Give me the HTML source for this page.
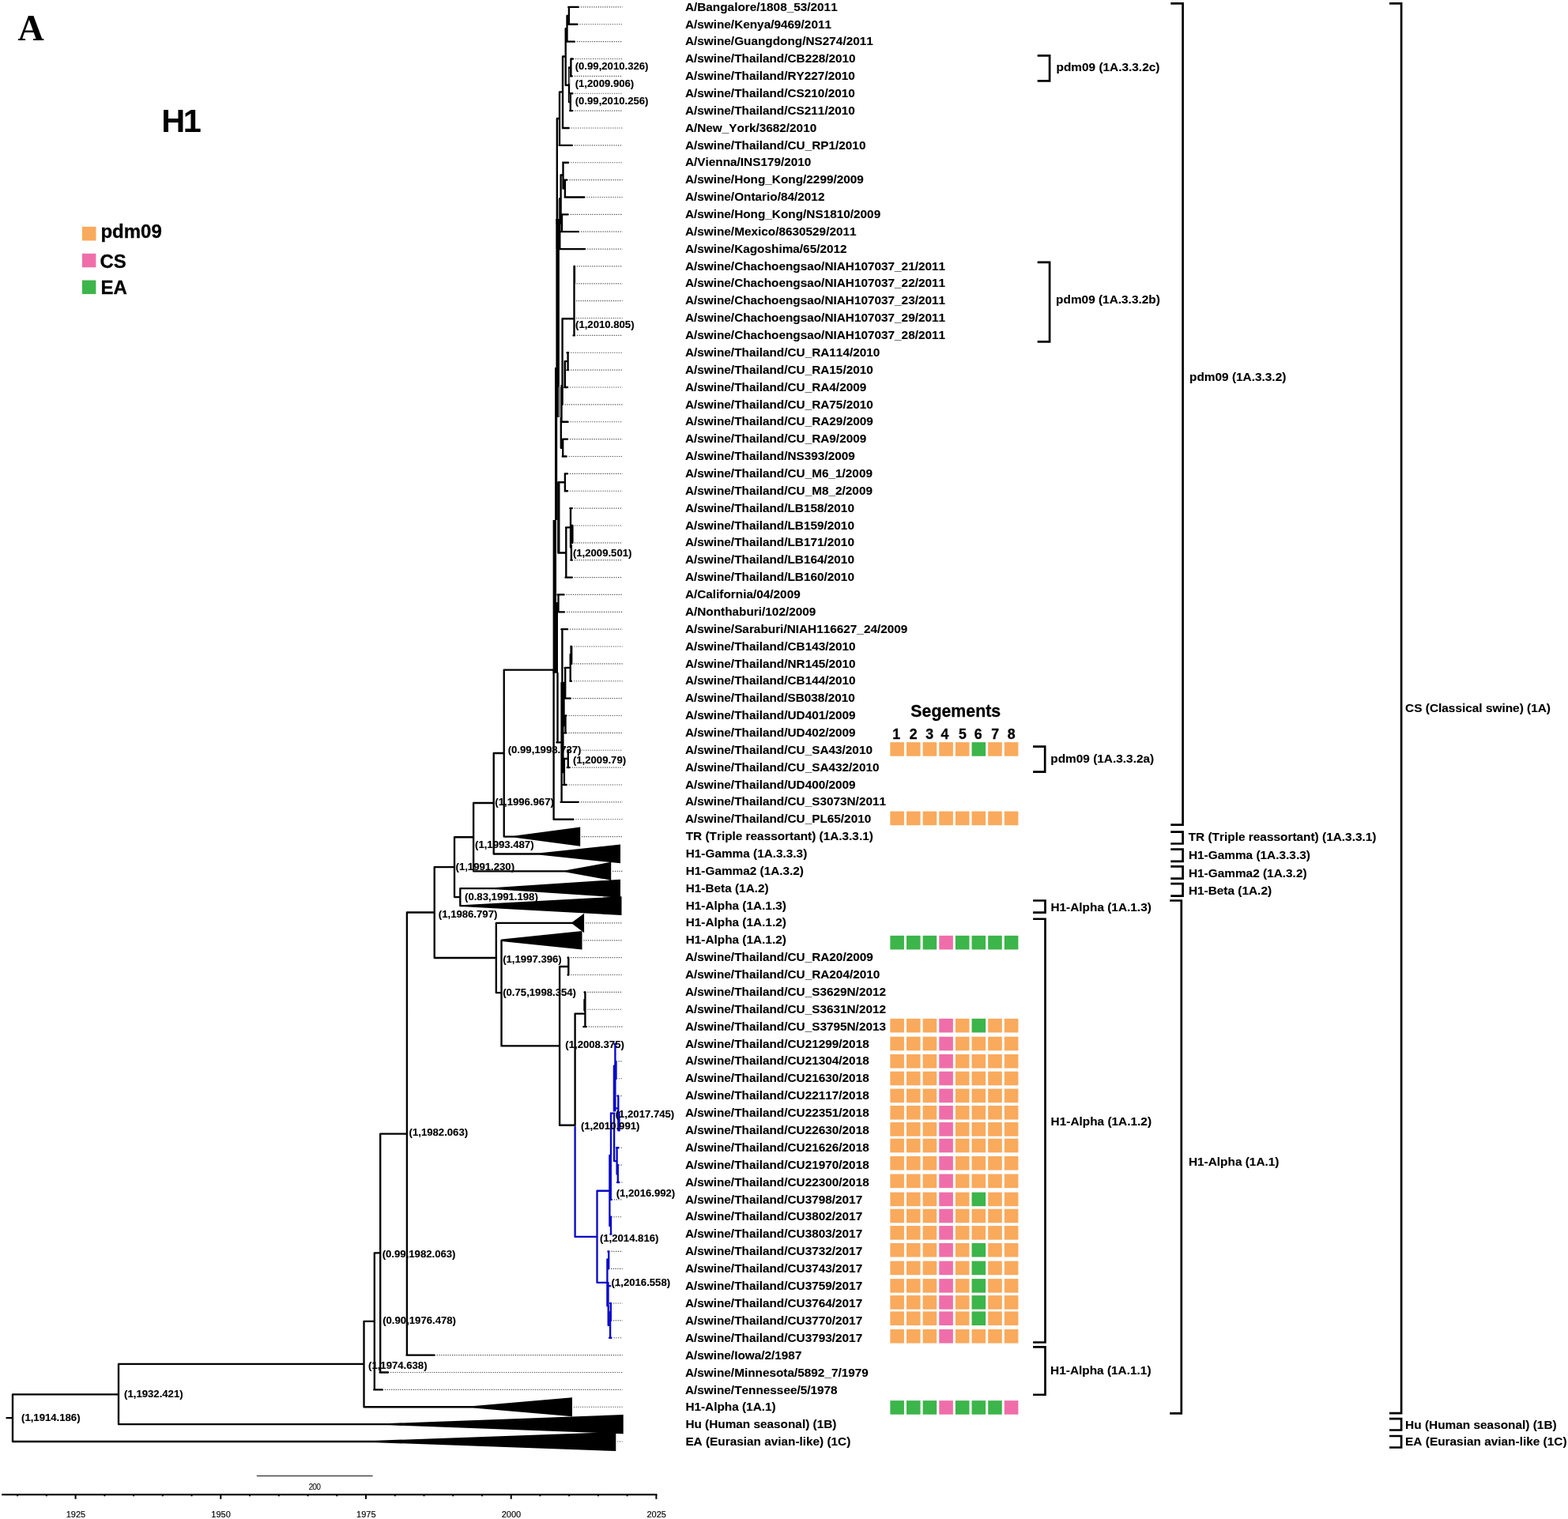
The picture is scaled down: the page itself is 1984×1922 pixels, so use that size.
<!DOCTYPE html>
<html lang="en">
<head>
<meta charset="utf-8">
<title>H1 phylogenetic tree</title>
<style>
html,body{margin:0;padding:0;background:#fff;}
body{width:1984px;height:1922px;overflow:hidden;}
svg{display:block;}
text{white-space:pre;font-kerning:none;}
</style>
</head>
<body>
<svg width="1984" height="1922" viewBox="0 0 1984 1922">
<rect width="1984" height="1922" fill="#fff"/>
<path d="M734.8 8.9H787.6M733.5 30.77H787.6M729.9 52.64H787.6M728 74.51H787.6M726.9 96.37H787.6M727.4 118.24H787.6M727.4 140.11H787.6M722.8 161.98H787.6M726.9 183.85H787.6M722.2 205.72H787.6M720.5 227.59H787.6M742.4 249.45H787.6M721.8 271.32H787.6M735 293.19H787.6M743.2 315.06H787.6M729.9 336.93H787.6M729.5 358.8H787.6M729.1 380.66H787.6M728.9 402.53H787.6M729.9 424.4H787.6M722.2 446.27H787.6M722.2 468.14H787.6M721.2 490.01H787.6M714.6 511.88H787.6M721.7 533.74H787.6M721.2 555.61H787.6M719.7 577.48H787.6M721.2 599.35H787.6M721.2 621.22H787.6M726.9 643.09H787.6M726.9 664.96H787.6M726.9 686.82H787.6M726.9 708.69H787.6M726.9 730.56H787.6M716.6 752.43H787.6M717.1 774.3H787.6M721.2 796.17H787.6M726.3 818.03H787.6M725.8 839.9H787.6M726 861.77H787.6M724.8 883.64H787.6M719.5 905.51H787.6M719.5 927.38H787.6M735.5 949.25H787.6M723.8 971.11H787.6M719.7 992.98H787.6M734.9 1014.85H787.6M728.4 1036.72H787.6M722.2 1211.67H787.6M722.2 1233.54H787.6M743.4 1255.4H787.6M743.4 1277.27H787.6M744.8 1299.14H787.6M782.6 1342.88H787.6M782.8 1364.75H787.6M785.3 1386.62H787.6M786.4 1408.48H787.6M785.7 1452.22H787.6M785.5 1474.09H787.6M786.4 1495.96H787.6M776.9 1517.83H787.6M776.5 1539.7H787.6M773.6 1583.43H787.6M773 1605.3H787.6M775.3 1627.17H787.6M776.1 1649.04H787.6M776.1 1670.91H787.6M776.5 1692.77H787.6M552.7 1714.64H787.6M494.1 1736.51H787.6M486.9 1758.38H787.6M736.1 1058.59H787.6M775.1 1102.33H787.6M741 1167.93H787.6M738.4 1189.8H787.6M725.9 1780.25H787.6M781.2 1823.99H787.6" stroke="#484848" stroke-width="1.15" stroke-dasharray="1.2 1.554" fill="none"/>
<path d="M719.9 8.9V30.77M717.5 19.9V52.64M717.5 19.9H719.9M715.7 36.2V107.7M715.7 36.2H717.5M722.4 74.51V96.37M721.8 118.24V140.11M720 85.4V129.1M720 85.4H722.4M720 129.1H721.8M715.7 107.7H720M712 71.5V161.98M712 71.5H715.7M708 116.3V183.85M708 116.3H712M704.8 150V283M704.8 150H708M712.5 205.72V238.5M714.9 227.59V249.45M712.5 238.5H714.9M709.6 221.5V282.5M709.6 221.5H712.5M711 271.32V293.19M708.3 251.2V315.06M708.3 251.2H709.6M726.5 336.93V424.4M726.9 336.93V358.8M711.6 403.2H725.5M711.6 403.2V511.88M718.6 446.27V468.14M714.7 457.1H718.6M714.9 457.1V490.01M710.5 488V533.74M712.2 555.61V577.48M709.8 529V566.8M709.8 566.8H712.2M714.9 599.35V621.22M706.6 610.2H714.7M706.3 610.2V699.5M707.3 610.2V699.5M706.6 699.5H716.3M716.3 667.4V730.56M716 667.4H722M722 643.09V692.4M723.6 664.96V686.82M724.4 664.96V686.82M722.9 690V708.69M706.5 752.43V774.3M711.4 796.17V880M722.6 818.03V839.9M723.2 818.03V839.9M721.7 828V861.77M714.7 844.9H721.4M715.2 844.9V883.64M715.5 905.51V927.38M713.5 864V918M704.3 939.3H709.6M705.5 851.7V939.3M718.8 949.25V971.11M713.7 960H717.8M713.9 960V992.98M710.6 864V1014.85M712.4 864V977M637.7 847.6H700.4M700.6 847.6V1036.72M637.7 847.6V1058.59M624.7 953H637.7M624.7 953V1080.46M599.1 1016H624.7M599.1 1016V1102.33M575 1059.2H599.1M575 1059.2V1135.1M575 1135.1H582.3M582.3 1124.19V1146.06M549.7 1097.1H575M549.7 1097.1V1212M514.9 1154.5H549.7M549.7 1212H627.8M627.8 1167.93V1256.1M627.8 1256.1H634.5M634.5 1189.8V1323.4M634.5 1323.4H708.1M708.1 1223V1423.7M708.1 1223H719.3M719.3 1211.67V1233.54M708.1 1423.7H727.6M727.6 1282.6V1423.7M727.6 1282.6H740.4M740.4 1255.4V1299.14M739.5 1265V1278.5M514.9 1154.5V1714.64M481.2 1434.6H514.9M481.2 1434.6V1736.51M473.8 1585.3H481.2M473.8 1585.3V1758.38M460.5 1671.8H473.8M460.5 1671.8V1780.25M150 1725.8H460.5M150 1725.8V1802.12M16 1764.3H150M16 1764.3V1823.99M8.5 1794.1H16M719.3 8.9H731.73M719.3 30.77H730.43M716.6 52.64H726.83M722.4 74.51H724.93M721.8 96.37H723.83M721.8 118.24H724.33M721.2 140.11H724.33M711.9 161.98H719.73M707.6 183.85H723.83M712.2 205.72H719.12M714.7 227.59H717.43M714.7 249.45H739.33M710 271.32H718.73M710 293.19H731.93M707.7 315.06H740.12M726.5 336.93H727.03M726.5 358.8H726.5M726.5 380.66H726.5M726.5 402.53H726.5M725.6 424.4H726.83M717.6 446.27H719.12M717.6 468.14H719.12M714.2 490.01H718.12M711.6 511.88H711.6M709.6 533.74H718.62M712.2 555.61H718.12M711.7 577.48H716.62M714.7 599.35H718.12M714.7 621.22H718.12M721.4 643.09H723.83M723.4 664.96H723.83M723.4 686.82H723.83M722.4 708.69H723.83M715.5 730.56H723.83M705.5 752.43H713.53M705.5 774.3H714.03M710.4 796.17H718.12M722.4 818.03H723.23M721.5 839.9H722.73M721.4 861.77H722.93M714.7 883.64H721.73M715.2 905.51H716.43M714.7 927.38H716.43M718.3 949.25H719.62M717.8 971.11H720.73M712.9 992.98H716.62M709.6 1014.85H731.83M700.5 1036.72H725.33M718.6 1211.67H719.12M718.6 1233.54H719.12M739.6 1255.4H740.23M739.6 1277.27H740.23M738.3 1299.14H741.73M514.5 1714.64H549.62M480.6 1736.51H491.02M473.3 1758.38H483.82M637.7 1058.59H651.5M624.7 1080.46H683.7M599.1 1102.33H715.8M582.3 1124.19H627M582.3 1146.06H588M627.8 1167.93H724.2M634.5 1189.8H634.5M460.5 1780.25H599.3M150 1802.12H492.7M16 1823.99H475.7" stroke="#000" stroke-width="2.35" fill="none" stroke-linecap="round"/>
<path d="M727.6 1425.7V1564.9M727.6 1564.9H755.5M755.5 1506.7V1622.8M755.5 1506.7H771.2M755.5 1622.8H768.2M778.4 1321.01V1405.4M779.5 1342.88V1364.75M776.9 1348.6V1405.4M782.3 1386.62V1430.35M783.5 1408.48V1430.35M777.5 1402.4H782.3M773 1408.4V1462M773 1408.6H777.5M777.1 1408.6V1469.1M777.1 1469.1H780.6M780.6 1452.22V1485.5M781.8 1474.09V1495.96M771.4 1462V1551M772.8 1462V1517.83M773 1539.7V1561.56M770.2 1583.43V1605.3M768.4 1593.3V1652.3M769.5 1622.8V1652.3M772.8 1649.04V1670.91M769.7 1652.3V1676.7M769.7 1676.7H771.7M772.1 1659.9V1692.77M777.4 1321.01H778.23M778.4 1342.88H779.53M778.4 1364.75H779.73M781.3 1386.62H782.23M782.5 1408.48H783.33M783 1430.35H783.83M780 1452.22H782.62M781 1474.09H782.43M781 1495.96H783.33M772 1517.83H773.83M771.6 1539.7H773.43M772.3 1561.56H773.43M769.4 1583.43H770.53M768.8 1605.3H769.93M768.8 1627.17H772.23M772 1649.04H773.03M771.7 1670.91H773.03M771.1 1692.77H773.43" stroke="#0a0ac8" stroke-width="2.35" fill="none" stroke-linecap="round"/>
<rect x="706.3" y="252" width="1" height="26" fill="#888"/>
<rect x="719.7" y="87" width="1" height="19" fill="#999"/>
<rect x="720.6" y="119" width="0.7" height="9.5" fill="#999"/>
<rect x="703.3" y="277" width="4.9" height="38" fill="#000"/>
<rect x="703.4" y="315" width="4.5" height="150" fill="#000"/>
<rect x="702" y="465" width="5.9" height="25" fill="#000"/>
<rect x="702" y="490" width="4.8" height="38" fill="#000"/>
<rect x="706.8" y="490" width="2" height="38" fill="#777"/>
<rect x="702" y="528" width="3.2" height="130" fill="#000"/>
<rect x="712.5" y="457" width="1.5" height="32.5" fill="#777"/>
<rect x="699.6" y="658" width="4.4" height="104" fill="#000"/>
<rect x="699.6" y="762" width="6.4" height="89.7" fill="#000"/>
<path d="M651.5 1057.41L734.2 1046.39V1070.79L651.5 1059.76ZM683.7 1079.28L785 1068.56V1092.36L683.7 1081.63ZM715.8 1101.15L773.2 1090.83V1113.83L715.8 1103.5ZM627 1123.02L785 1112.69V1135.69L627 1125.37ZM588 1144.89L786.5 1134.16V1157.96L588 1147.24ZM724.2 1166.76L739.1 1155.63V1180.23L724.2 1169.11ZM634.5 1188.62L736.5 1178.1V1201.5L634.5 1190.97ZM599.3 1779.07L724 1768.35V1792.15L599.3 1781.42ZM492.7 1800.94L788.7 1790.02V1814.22L492.7 1803.29ZM475.7 1822.81L779.3 1811.89V1836.09L475.7 1825.16Z" fill="#000"/>
<path d="M2.2 1891.1H831.3" stroke="#000" stroke-width="2.2"/>
<path d="M22.12 1891.1V1893.2M58.86 1891.1V1893.2M95.6 1891.1V1896.7M132.34 1891.1V1893.2M169.08 1891.1V1893.2M205.82 1891.1V1893.2M242.56 1891.1V1893.2M279.3 1891.1V1896.7M316.04 1891.1V1893.2M352.78 1891.1V1893.2M389.52 1891.1V1893.2M426.26 1891.1V1893.2M463 1891.1V1896.7M499.74 1891.1V1893.2M536.48 1891.1V1893.2M573.22 1891.1V1893.2M609.96 1891.1V1893.2M646.7 1891.1V1896.7M683.44 1891.1V1893.2M720.18 1891.1V1893.2M756.92 1891.1V1893.2M793.66 1891.1V1893.2M830.4 1891.1V1896.7" stroke="#000" stroke-width="2"/>
<g font-family="'Liberation Sans',sans-serif" font-size="11" text-anchor="middle" fill="#000" stroke="#000" stroke-width="0.15">
<text x="95.9" y="1919.6">1925</text>
<text x="279.6" y="1919.6">1950</text>
<text x="463.3" y="1919.6">1975</text>
<text x="647" y="1919.6">2000</text>
<text x="830.7" y="1919.6">2025</text>
</g>
<path d="M324.8 1867.5H471.6" stroke="#111" stroke-width="1.15"/>
<text x="397.8" y="1884.8" font-family="'Liberation Sans',sans-serif" font-size="10.3" text-anchor="middle" letter-spacing="-0.9" fill="#000">200</text>
<rect x="1126.35" y="939.14" width="17.6" height="17.6" fill="#f9aa5c"/>
<rect x="1146.99" y="939.14" width="17.6" height="17.6" fill="#f9aa5c"/>
<rect x="1167.63" y="939.14" width="17.6" height="17.6" fill="#f9aa5c"/>
<rect x="1188.27" y="939.14" width="17.6" height="17.6" fill="#f9aa5c"/>
<rect x="1208.91" y="939.14" width="17.6" height="17.6" fill="#f9aa5c"/>
<rect x="1229.55" y="939.14" width="17.6" height="17.6" fill="#3cb54a"/>
<rect x="1250.19" y="939.14" width="17.6" height="17.6" fill="#f9aa5c"/>
<rect x="1270.83" y="939.14" width="17.6" height="17.6" fill="#f9aa5c"/>
<rect x="1126.35" y="1026.6" width="17.6" height="17.6" fill="#f9aa5c"/>
<rect x="1146.99" y="1026.6" width="17.6" height="17.6" fill="#f9aa5c"/>
<rect x="1167.63" y="1026.6" width="17.6" height="17.6" fill="#f9aa5c"/>
<rect x="1188.27" y="1026.6" width="17.6" height="17.6" fill="#f9aa5c"/>
<rect x="1208.91" y="1026.6" width="17.6" height="17.6" fill="#f9aa5c"/>
<rect x="1229.55" y="1026.6" width="17.6" height="17.6" fill="#f9aa5c"/>
<rect x="1250.19" y="1026.6" width="17.6" height="17.6" fill="#f9aa5c"/>
<rect x="1270.83" y="1026.6" width="17.6" height="17.6" fill="#f9aa5c"/>
<rect x="1126.35" y="1183.85" width="17.6" height="17.6" fill="#3cb54a"/>
<rect x="1146.99" y="1183.85" width="17.6" height="17.6" fill="#3cb54a"/>
<rect x="1167.63" y="1183.85" width="17.6" height="17.6" fill="#3cb54a"/>
<rect x="1188.27" y="1183.85" width="17.6" height="17.6" fill="#ef6ea9"/>
<rect x="1208.91" y="1183.85" width="17.6" height="17.6" fill="#3cb54a"/>
<rect x="1229.55" y="1183.85" width="17.6" height="17.6" fill="#3cb54a"/>
<rect x="1250.19" y="1183.85" width="17.6" height="17.6" fill="#3cb54a"/>
<rect x="1270.83" y="1183.85" width="17.6" height="17.6" fill="#3cb54a"/>
<rect x="1126.35" y="1288.88" width="17.6" height="17.6" fill="#f9aa5c"/>
<rect x="1146.99" y="1288.88" width="17.6" height="17.6" fill="#f9aa5c"/>
<rect x="1167.63" y="1288.88" width="17.6" height="17.6" fill="#f9aa5c"/>
<rect x="1188.27" y="1288.88" width="17.6" height="17.6" fill="#ef6ea9"/>
<rect x="1208.91" y="1288.88" width="17.6" height="17.6" fill="#f9aa5c"/>
<rect x="1229.55" y="1288.88" width="17.6" height="17.6" fill="#3cb54a"/>
<rect x="1250.19" y="1288.88" width="17.6" height="17.6" fill="#f9aa5c"/>
<rect x="1270.83" y="1288.88" width="17.6" height="17.6" fill="#f9aa5c"/>
<rect x="1126.35" y="1772.15" width="17.6" height="17.6" fill="#3cb54a"/>
<rect x="1146.99" y="1772.15" width="17.6" height="17.6" fill="#3cb54a"/>
<rect x="1167.63" y="1772.15" width="17.6" height="17.6" fill="#3cb54a"/>
<rect x="1188.27" y="1772.15" width="17.6" height="17.6" fill="#ef6ea9"/>
<rect x="1208.91" y="1772.15" width="17.6" height="17.6" fill="#3cb54a"/>
<rect x="1229.55" y="1772.15" width="17.6" height="17.6" fill="#3cb54a"/>
<rect x="1250.19" y="1772.15" width="17.6" height="17.6" fill="#3cb54a"/>
<rect x="1270.83" y="1772.15" width="17.6" height="17.6" fill="#ef6ea9"/>
<rect x="1126.35" y="1311.74" width="17.6" height="17.6" fill="#f9aa5c"/>
<rect x="1146.99" y="1311.74" width="17.6" height="17.6" fill="#f9aa5c"/>
<rect x="1167.63" y="1311.74" width="17.6" height="17.6" fill="#f9aa5c"/>
<rect x="1188.27" y="1311.74" width="17.6" height="17.6" fill="#ef6ea9"/>
<rect x="1208.91" y="1311.74" width="17.6" height="17.6" fill="#f9aa5c"/>
<rect x="1229.55" y="1311.74" width="17.6" height="17.6" fill="#f9aa5c"/>
<rect x="1250.19" y="1311.74" width="17.6" height="17.6" fill="#f9aa5c"/>
<rect x="1270.83" y="1311.74" width="17.6" height="17.6" fill="#f9aa5c"/>
<rect x="1126.35" y="1334.01" width="17.6" height="17.6" fill="#f9aa5c"/>
<rect x="1146.99" y="1334.01" width="17.6" height="17.6" fill="#f9aa5c"/>
<rect x="1167.63" y="1334.01" width="17.6" height="17.6" fill="#f9aa5c"/>
<rect x="1188.27" y="1334.01" width="17.6" height="17.6" fill="#ef6ea9"/>
<rect x="1208.91" y="1334.01" width="17.6" height="17.6" fill="#f9aa5c"/>
<rect x="1229.55" y="1334.01" width="17.6" height="17.6" fill="#f9aa5c"/>
<rect x="1250.19" y="1334.01" width="17.6" height="17.6" fill="#f9aa5c"/>
<rect x="1270.83" y="1334.01" width="17.6" height="17.6" fill="#f9aa5c"/>
<rect x="1126.35" y="1355.72" width="17.6" height="17.6" fill="#f9aa5c"/>
<rect x="1146.99" y="1355.72" width="17.6" height="17.6" fill="#f9aa5c"/>
<rect x="1167.63" y="1355.72" width="17.6" height="17.6" fill="#f9aa5c"/>
<rect x="1188.27" y="1355.72" width="17.6" height="17.6" fill="#ef6ea9"/>
<rect x="1208.91" y="1355.72" width="17.6" height="17.6" fill="#f9aa5c"/>
<rect x="1229.55" y="1355.72" width="17.6" height="17.6" fill="#f9aa5c"/>
<rect x="1250.19" y="1355.72" width="17.6" height="17.6" fill="#f9aa5c"/>
<rect x="1270.83" y="1355.72" width="17.6" height="17.6" fill="#f9aa5c"/>
<rect x="1126.35" y="1377.59" width="17.6" height="17.6" fill="#f9aa5c"/>
<rect x="1146.99" y="1377.59" width="17.6" height="17.6" fill="#f9aa5c"/>
<rect x="1167.63" y="1377.59" width="17.6" height="17.6" fill="#f9aa5c"/>
<rect x="1188.27" y="1377.59" width="17.6" height="17.6" fill="#ef6ea9"/>
<rect x="1208.91" y="1377.59" width="17.6" height="17.6" fill="#f9aa5c"/>
<rect x="1229.55" y="1377.59" width="17.6" height="17.6" fill="#f9aa5c"/>
<rect x="1250.19" y="1377.59" width="17.6" height="17.6" fill="#f9aa5c"/>
<rect x="1270.83" y="1377.59" width="17.6" height="17.6" fill="#f9aa5c"/>
<rect x="1126.35" y="1399" width="17.6" height="17.6" fill="#f9aa5c"/>
<rect x="1146.99" y="1399" width="17.6" height="17.6" fill="#f9aa5c"/>
<rect x="1167.63" y="1399" width="17.6" height="17.6" fill="#f9aa5c"/>
<rect x="1188.27" y="1399" width="17.6" height="17.6" fill="#ef6ea9"/>
<rect x="1208.91" y="1399" width="17.6" height="17.6" fill="#f9aa5c"/>
<rect x="1229.55" y="1399" width="17.6" height="17.6" fill="#f9aa5c"/>
<rect x="1250.19" y="1399" width="17.6" height="17.6" fill="#f9aa5c"/>
<rect x="1270.83" y="1399" width="17.6" height="17.6" fill="#f9aa5c"/>
<rect x="1126.35" y="1420.07" width="17.6" height="17.6" fill="#f9aa5c"/>
<rect x="1146.99" y="1420.07" width="17.6" height="17.6" fill="#f9aa5c"/>
<rect x="1167.63" y="1420.07" width="17.6" height="17.6" fill="#f9aa5c"/>
<rect x="1188.27" y="1420.07" width="17.6" height="17.6" fill="#ef6ea9"/>
<rect x="1208.91" y="1420.07" width="17.6" height="17.6" fill="#f9aa5c"/>
<rect x="1229.55" y="1420.07" width="17.6" height="17.6" fill="#f9aa5c"/>
<rect x="1250.19" y="1420.07" width="17.6" height="17.6" fill="#f9aa5c"/>
<rect x="1270.83" y="1420.07" width="17.6" height="17.6" fill="#f9aa5c"/>
<rect x="1126.35" y="1440.73" width="17.6" height="17.6" fill="#f9aa5c"/>
<rect x="1146.99" y="1440.73" width="17.6" height="17.6" fill="#f9aa5c"/>
<rect x="1167.63" y="1440.73" width="17.6" height="17.6" fill="#f9aa5c"/>
<rect x="1188.27" y="1440.73" width="17.6" height="17.6" fill="#ef6ea9"/>
<rect x="1208.91" y="1440.73" width="17.6" height="17.6" fill="#f9aa5c"/>
<rect x="1229.55" y="1440.73" width="17.6" height="17.6" fill="#f9aa5c"/>
<rect x="1250.19" y="1440.73" width="17.6" height="17.6" fill="#f9aa5c"/>
<rect x="1270.83" y="1440.73" width="17.6" height="17.6" fill="#f9aa5c"/>
<rect x="1126.35" y="1463" width="17.6" height="17.6" fill="#f9aa5c"/>
<rect x="1146.99" y="1463" width="17.6" height="17.6" fill="#f9aa5c"/>
<rect x="1167.63" y="1463" width="17.6" height="17.6" fill="#f9aa5c"/>
<rect x="1188.27" y="1463" width="17.6" height="17.6" fill="#ef6ea9"/>
<rect x="1208.91" y="1463" width="17.6" height="17.6" fill="#f9aa5c"/>
<rect x="1229.55" y="1463" width="17.6" height="17.6" fill="#f9aa5c"/>
<rect x="1250.19" y="1463" width="17.6" height="17.6" fill="#f9aa5c"/>
<rect x="1270.83" y="1463" width="17.6" height="17.6" fill="#f9aa5c"/>
<rect x="1126.35" y="1485.56" width="17.6" height="17.6" fill="#f9aa5c"/>
<rect x="1146.99" y="1485.56" width="17.6" height="17.6" fill="#f9aa5c"/>
<rect x="1167.63" y="1485.56" width="17.6" height="17.6" fill="#f9aa5c"/>
<rect x="1188.27" y="1485.56" width="17.6" height="17.6" fill="#ef6ea9"/>
<rect x="1208.91" y="1485.56" width="17.6" height="17.6" fill="#f9aa5c"/>
<rect x="1229.55" y="1485.56" width="17.6" height="17.6" fill="#f9aa5c"/>
<rect x="1250.19" y="1485.56" width="17.6" height="17.6" fill="#f9aa5c"/>
<rect x="1270.83" y="1485.56" width="17.6" height="17.6" fill="#f9aa5c"/>
<rect x="1126.35" y="1508.62" width="17.6" height="17.6" fill="#f9aa5c"/>
<rect x="1146.99" y="1508.62" width="17.6" height="17.6" fill="#f9aa5c"/>
<rect x="1167.63" y="1508.62" width="17.6" height="17.6" fill="#f9aa5c"/>
<rect x="1188.27" y="1508.62" width="17.6" height="17.6" fill="#ef6ea9"/>
<rect x="1208.91" y="1508.62" width="17.6" height="17.6" fill="#f9aa5c"/>
<rect x="1229.55" y="1508.62" width="17.6" height="17.6" fill="#3cb54a"/>
<rect x="1250.19" y="1508.62" width="17.6" height="17.6" fill="#f9aa5c"/>
<rect x="1270.83" y="1508.62" width="17.6" height="17.6" fill="#f9aa5c"/>
<rect x="1126.35" y="1529.69" width="17.6" height="17.6" fill="#f9aa5c"/>
<rect x="1146.99" y="1529.69" width="17.6" height="17.6" fill="#f9aa5c"/>
<rect x="1167.63" y="1529.69" width="17.6" height="17.6" fill="#f9aa5c"/>
<rect x="1188.27" y="1529.69" width="17.6" height="17.6" fill="#ef6ea9"/>
<rect x="1208.91" y="1529.69" width="17.6" height="17.6" fill="#f9aa5c"/>
<rect x="1229.55" y="1529.69" width="17.6" height="17.6" fill="#f9aa5c"/>
<rect x="1250.19" y="1529.69" width="17.6" height="17.6" fill="#f9aa5c"/>
<rect x="1270.83" y="1529.69" width="17.6" height="17.6" fill="#f9aa5c"/>
<rect x="1126.35" y="1551.06" width="17.6" height="17.6" fill="#f9aa5c"/>
<rect x="1146.99" y="1551.06" width="17.6" height="17.6" fill="#f9aa5c"/>
<rect x="1167.63" y="1551.06" width="17.6" height="17.6" fill="#f9aa5c"/>
<rect x="1188.27" y="1551.06" width="17.6" height="17.6" fill="#ef6ea9"/>
<rect x="1208.91" y="1551.06" width="17.6" height="17.6" fill="#f9aa5c"/>
<rect x="1229.55" y="1551.06" width="17.6" height="17.6" fill="#f9aa5c"/>
<rect x="1250.19" y="1551.06" width="17.6" height="17.6" fill="#f9aa5c"/>
<rect x="1270.83" y="1551.06" width="17.6" height="17.6" fill="#f9aa5c"/>
<rect x="1126.35" y="1572.92" width="17.6" height="17.6" fill="#f9aa5c"/>
<rect x="1146.99" y="1572.92" width="17.6" height="17.6" fill="#f9aa5c"/>
<rect x="1167.63" y="1572.92" width="17.6" height="17.6" fill="#f9aa5c"/>
<rect x="1188.27" y="1572.92" width="17.6" height="17.6" fill="#ef6ea9"/>
<rect x="1208.91" y="1572.92" width="17.6" height="17.6" fill="#f9aa5c"/>
<rect x="1229.55" y="1572.92" width="17.6" height="17.6" fill="#3cb54a"/>
<rect x="1250.19" y="1572.92" width="17.6" height="17.6" fill="#f9aa5c"/>
<rect x="1270.83" y="1572.92" width="17.6" height="17.6" fill="#f9aa5c"/>
<rect x="1126.35" y="1595.64" width="17.6" height="17.6" fill="#f9aa5c"/>
<rect x="1146.99" y="1595.64" width="17.6" height="17.6" fill="#f9aa5c"/>
<rect x="1167.63" y="1595.64" width="17.6" height="17.6" fill="#f9aa5c"/>
<rect x="1188.27" y="1595.64" width="17.6" height="17.6" fill="#ef6ea9"/>
<rect x="1208.91" y="1595.64" width="17.6" height="17.6" fill="#f9aa5c"/>
<rect x="1229.55" y="1595.64" width="17.6" height="17.6" fill="#3cb54a"/>
<rect x="1250.19" y="1595.64" width="17.6" height="17.6" fill="#f9aa5c"/>
<rect x="1270.83" y="1595.64" width="17.6" height="17.6" fill="#f9aa5c"/>
<rect x="1126.35" y="1618.1" width="17.6" height="17.6" fill="#f9aa5c"/>
<rect x="1146.99" y="1618.1" width="17.6" height="17.6" fill="#f9aa5c"/>
<rect x="1167.63" y="1618.1" width="17.6" height="17.6" fill="#f9aa5c"/>
<rect x="1188.27" y="1618.1" width="17.6" height="17.6" fill="#ef6ea9"/>
<rect x="1208.91" y="1618.1" width="17.6" height="17.6" fill="#f9aa5c"/>
<rect x="1229.55" y="1618.1" width="17.6" height="17.6" fill="#3cb54a"/>
<rect x="1250.19" y="1618.1" width="17.6" height="17.6" fill="#f9aa5c"/>
<rect x="1270.83" y="1618.1" width="17.6" height="17.6" fill="#f9aa5c"/>
<rect x="1126.35" y="1639.12" width="17.6" height="17.6" fill="#f9aa5c"/>
<rect x="1146.99" y="1639.12" width="17.6" height="17.6" fill="#f9aa5c"/>
<rect x="1167.63" y="1639.12" width="17.6" height="17.6" fill="#f9aa5c"/>
<rect x="1188.27" y="1639.12" width="17.6" height="17.6" fill="#ef6ea9"/>
<rect x="1208.91" y="1639.12" width="17.6" height="17.6" fill="#f9aa5c"/>
<rect x="1229.55" y="1639.12" width="17.6" height="17.6" fill="#3cb54a"/>
<rect x="1250.19" y="1639.12" width="17.6" height="17.6" fill="#f9aa5c"/>
<rect x="1270.83" y="1639.12" width="17.6" height="17.6" fill="#f9aa5c"/>
<rect x="1126.35" y="1659.43" width="17.6" height="17.6" fill="#f9aa5c"/>
<rect x="1146.99" y="1659.43" width="17.6" height="17.6" fill="#f9aa5c"/>
<rect x="1167.63" y="1659.43" width="17.6" height="17.6" fill="#f9aa5c"/>
<rect x="1188.27" y="1659.43" width="17.6" height="17.6" fill="#ef6ea9"/>
<rect x="1208.91" y="1659.43" width="17.6" height="17.6" fill="#f9aa5c"/>
<rect x="1229.55" y="1659.43" width="17.6" height="17.6" fill="#3cb54a"/>
<rect x="1250.19" y="1659.43" width="17.6" height="17.6" fill="#f9aa5c"/>
<rect x="1270.83" y="1659.43" width="17.6" height="17.6" fill="#f9aa5c"/>
<rect x="1126.35" y="1681.99" width="17.6" height="17.6" fill="#f9aa5c"/>
<rect x="1146.99" y="1681.99" width="17.6" height="17.6" fill="#f9aa5c"/>
<rect x="1167.63" y="1681.99" width="17.6" height="17.6" fill="#f9aa5c"/>
<rect x="1188.27" y="1681.99" width="17.6" height="17.6" fill="#ef6ea9"/>
<rect x="1208.91" y="1681.99" width="17.6" height="17.6" fill="#f9aa5c"/>
<rect x="1229.55" y="1681.99" width="17.6" height="17.6" fill="#f9aa5c"/>
<rect x="1250.19" y="1681.99" width="17.6" height="17.6" fill="#f9aa5c"/>
<rect x="1270.83" y="1681.99" width="17.6" height="17.6" fill="#f9aa5c"/>
<rect x="103.9" y="286.9" width="17.6" height="17.6" fill="#f9aa5c"/>
<rect x="103.9" y="320.8" width="17.5" height="17.5" fill="#ef6ea9"/>
<rect x="103.9" y="354.6" width="17.5" height="17.5" fill="#3cb54a"/>
<path d="M1312.7 70.4H1328.1V102.4H1312.7M1312.7 331.9H1328.1V432.4H1312.7M1307.1 944.7H1322.2V976.7H1307.1M1307.1 1139.5H1322.5V1154.6H1307.1M1307.1 1162.75H1322.5V1698.5H1307.1M1307.1 1704.4H1322.5V1764.75H1307.1M1481.3 4.3H1496.6V1043.6H1481.3M1481.3 1052.6H1496.6V1067.5H1481.3M1481.3 1074.6H1496.6V1089.8H1481.3M1481.3 1096.3H1496.6V1111.6H1481.3M1481.3 1118.1H1496.6V1133.7H1481.3M1480.2 1139.5H1494.8V1788.4H1480.2M1758 4.3H1773.1V1788.2H1758M1758 1795.2H1773.1V1809.5H1758M1758 1817H1773.1V1831.5H1758" stroke="#000" stroke-width="2.7" fill="none" stroke-linejoin="miter"/>
<g font-family="'Liberation Sans',sans-serif" font-weight="bold" font-size="15.35" fill="#000" stroke="#000" stroke-width="0.12" stroke-linejoin="round">
<text x="866.9" y="13.64">A/Bangalore/1808_53/2011</text>
<text x="866.9" y="35.51">A/swine/Kenya/9469/2011</text>
<text x="866.9" y="57.37">A/swine/Guangdong/NS274/2011</text>
<text x="866.9" y="79.23">A/swine/Thailand/CB228/2010</text>
<text x="866.9" y="101.1">A/swine/Thailand/RY227/2010</text>
<text x="866.9" y="122.96">A/swine/Thailand/CS210/2010</text>
<text x="866.9" y="144.83">A/swine/Thailand/CS211/2010</text>
<text x="866.9" y="166.69">A/New_York/3682/2010</text>
<text x="866.9" y="188.56">A/swine/Thailand/CU_RP1/2010</text>
<text x="866.9" y="210.42">A/Vienna/INS179/2010</text>
<text x="866.9" y="232.29">A/swine/Hong_Kong/2299/2009</text>
<text x="866.9" y="254.15">A/swine/Ontario/84/2012</text>
<text x="866.9" y="276.02">A/swine/Hong_Kong/NS1810/2009</text>
<text x="866.9" y="297.88">A/swine/Mexico/8630529/2011</text>
<text x="866.9" y="319.75">A/swine/Kagoshima/65/2012</text>
<text x="866.9" y="341.61">A/swine/Chachoengsao/NIAH107037_21/2011</text>
<text x="866.9" y="363.48">A/swine/Chachoengsao/NIAH107037_22/2011</text>
<text x="866.9" y="385.34">A/swine/Chachoengsao/NIAH107037_23/2011</text>
<text x="866.9" y="407.21">A/swine/Chachoengsao/NIAH107037_29/2011</text>
<text x="866.9" y="429.07">A/swine/Chachoengsao/NIAH107037_28/2011</text>
<text x="866.9" y="450.94">A/swine/Thailand/CU_RA114/2010</text>
<text x="866.9" y="472.8">A/swine/Thailand/CU_RA15/2010</text>
<text x="866.9" y="494.67">A/swine/Thailand/CU_RA4/2009</text>
<text x="866.9" y="516.53">A/swine/Thailand/CU_RA75/2010</text>
<text x="866.9" y="538.4">A/swine/Thailand/CU_RA29/2009</text>
<text x="866.9" y="560.27">A/swine/Thailand/CU_RA9/2009</text>
<text x="866.9" y="582.13">A/swine/Thailand/NS393/2009</text>
<text x="866.9" y="604">A/swine/Thailand/CU_M6_1/2009</text>
<text x="866.9" y="625.86">A/swine/Thailand/CU_M8_2/2009</text>
<text x="866.9" y="647.73">A/swine/Thailand/LB158/2010</text>
<text x="866.9" y="669.59">A/swine/Thailand/LB159/2010</text>
<text x="866.9" y="691.46">A/swine/Thailand/LB171/2010</text>
<text x="866.9" y="713.32">A/swine/Thailand/LB164/2010</text>
<text x="866.9" y="735.19">A/swine/Thailand/LB160/2010</text>
<text x="866.9" y="757.05">A/California/04/2009</text>
<text x="866.9" y="778.92">A/Nonthaburi/102/2009</text>
<text x="866.9" y="800.78">A/swine/Saraburi/NIAH116627_24/2009</text>
<text x="866.9" y="822.65">A/swine/Thailand/CB143/2010</text>
<text x="866.9" y="844.51">A/swine/Thailand/NR145/2010</text>
<text x="866.9" y="866.38">A/swine/Thailand/CB144/2010</text>
<text x="866.9" y="888.24">A/swine/Thailand/SB038/2010</text>
<text x="866.9" y="910.11">A/swine/Thailand/UD401/2009</text>
<text x="866.9" y="931.97">A/swine/Thailand/UD402/2009</text>
<text x="866.9" y="953.84">A/swine/Thailand/CU_SA43/2010</text>
<text x="866.9" y="975.7">A/swine/Thailand/CU_SA432/2010</text>
<text x="866.9" y="997.57">A/swine/Thailand/UD400/2009</text>
<text x="866.9" y="1019.43">A/swine/Thailand/CU_S3073N/2011</text>
<text x="866.9" y="1041.3">A/swine/Thailand/CU_PL65/2010</text>
<text x="867.75" y="1063.16">TR (Triple reassortant) (1A.3.3.1)</text>
<text x="867.75" y="1085.03">H1-Gamma (1A.3.3.3)</text>
<text x="867.75" y="1106.89">H1-Gamma2 (1A.3.2)</text>
<text x="867.75" y="1128.76">H1-Beta (1A.2)</text>
<text x="867.75" y="1150.62">H1-Alpha (1A.1.3)</text>
<text x="867.75" y="1172.49">H1-Alpha (1A.1.2)</text>
<text x="867.75" y="1194.35">H1-Alpha (1A.1.2)</text>
<text x="866.9" y="1216.21">A/swine/Thailand/CU_RA20/2009</text>
<text x="866.9" y="1238.08">A/swine/Thailand/CU_RA204/2010</text>
<text x="866.9" y="1259.94">A/swine/Thailand/CU_S3629N/2012</text>
<text x="866.9" y="1281.81">A/swine/Thailand/CU_S3631N/2012</text>
<text x="866.9" y="1303.7">A/swine/Thailand/CU_S3795N/2013</text>
<text x="866.9" y="1325.59">A/swine/Thailand/CU21299/2018</text>
<text x="866.9" y="1347.48">A/swine/Thailand/CU21304/2018</text>
<text x="866.9" y="1369.37">A/swine/Thailand/CU21630/2018</text>
<text x="866.9" y="1391.26">A/swine/Thailand/CU22117/2018</text>
<text x="866.9" y="1413.15">A/swine/Thailand/CU22351/2018</text>
<text x="866.9" y="1435.04">A/swine/Thailand/CU22630/2018</text>
<text x="866.9" y="1456.93">A/swine/Thailand/CU21626/2018</text>
<text x="866.9" y="1478.82">A/swine/Thailand/CU21970/2018</text>
<text x="866.9" y="1500.71">A/swine/Thailand/CU22300/2018</text>
<text x="866.9" y="1522.6">A/swine/Thailand/CU3798/2017</text>
<text x="866.9" y="1544.49">A/swine/Thailand/CU3802/2017</text>
<text x="866.9" y="1566.36">A/swine/Thailand/CU3803/2017</text>
<text x="866.9" y="1588.22">A/swine/Thailand/CU3732/2017</text>
<text x="866.9" y="1610.09">A/swine/Thailand/CU3743/2017</text>
<text x="866.9" y="1631.95">A/swine/Thailand/CU3759/2017</text>
<text x="866.9" y="1653.81">A/swine/Thailand/CU3764/2017</text>
<text x="866.9" y="1675.68">A/swine/Thailand/CU3770/2017</text>
<text x="866.9" y="1697.54">A/swine/Thailand/CU3793/2017</text>
<text x="866.9" y="1719.86">A/swine/Iowa/2/1987</text>
<text x="866.9" y="1741.72">A/swine/Minnesota/5892_7/1979</text>
<text x="866.9" y="1763.59">A/swine/Tennessee/5/1978</text>
<text x="867.4" y="1785.11">H1-Alpha (1A.1)</text>
<text x="867.4" y="1807.02">Hu (Human seasonal) (1B)</text>
<text x="867.4" y="1828.88">EA (Eurasian avian-like) (1C)</text>
</g>
<g font-family="'Liberation Sans',sans-serif" font-weight="bold" font-size="15.4" fill="#000" stroke="#000" stroke-width="0.12" stroke-linejoin="round">
<text x="1336.5" y="89.7">pdm09 (1A.3.3.2c)</text>
<text x="1336.1" y="383.7">pdm09 (1A.3.3.2b)</text>
<text x="1329.3" y="965.4">pdm09 (1A.3.3.2a)</text>
<text x="1505" y="482.4">pdm09 (1A.3.3.2)</text>
<text x="1503.7" y="1064.4">TR (Triple reassortant) (1A.3.3.1)</text>
<text x="1503.9" y="1087.4">H1-Gamma (1A.3.3.3)</text>
<text x="1503.9" y="1109.7">H1-Gamma2 (1A.3.2)</text>
<text x="1503.9" y="1131.7">H1-Beta (1A.2)</text>
<text x="1329.4" y="1152.9">H1-Alpha (1A.1.3)</text>
<text x="1329.6" y="1423.9">H1-Alpha (1A.1.2)</text>
<text x="1503.9" y="1475.1">H1-Alpha (1A.1)</text>
<text x="1329.1" y="1739.2">H1-Alpha (1A.1.1)</text>
<text x="1778.1" y="900.5">CS (Classical swine) (1A)</text>
<text x="1778.1" y="1807.8">Hu (Human seasonal) (1B)</text>
<text x="1778.1" y="1828.6">EA (Eurasian avian-like (1C)</text>
</g>
<g font-family="'Liberation Sans',sans-serif" font-weight="bold" font-size="13.15" fill="#000" stroke="#000" stroke-width="0.12" stroke-linejoin="round">
<text x="727.7" y="87.9">(0.99,2010.326)</text>
<text x="727.7" y="109.7">(1,2009.906)</text>
<text x="727.7" y="132.3">(0.99,2010.256)</text>
<text x="728" y="414.8">(1,2010.805)</text>
<text x="724.9" y="704">(1,2009.501)</text>
<text x="642.7" y="952.5">(0.99,1998.737)</text>
<text x="724.9" y="965.5">(1,2009.79)</text>
<text x="626.3" y="1018.8">(1,1996.967)</text>
<text x="601" y="1072.8">(1,1993.487)</text>
<text x="576.5" y="1100.7">(1,1991.230)</text>
<text x="588" y="1138.6">(0.83,1991.198)</text>
<text x="554.8" y="1160.8">(1,1986.797)</text>
<text x="636.2" y="1218.2">(1,1997.396)</text>
<text x="636.2" y="1259.6">(0.75,1998.354)</text>
<text x="715.3" y="1326.2">(1,2008.375)</text>
<text x="734.9" y="1428.6">(1,2010.991)</text>
<text x="778.7" y="1413.5">(1,2017.745)</text>
<text x="779.7" y="1513.5">(1,2016.992)</text>
<text x="758.9" y="1570.6">(1,2014.816)</text>
<text x="773.6" y="1627.4">(1,2016.558)</text>
<text x="517.6" y="1437.2">(1,1982.063)</text>
<text x="483.7" y="1590.5">(0.99,1982.063)</text>
<text x="484.2" y="1675.3">(0.90,1976.478)</text>
<text x="466" y="1732.2">(1,1974.638)</text>
<text x="157.1" y="1767.6">(1,1932.421)</text>
<text x="27" y="1798">(1,1914.186)</text>
</g>
<text x="22.4" y="51" font-family="'Liberation Serif',serif" font-weight="bold" font-size="46" fill="#000">A</text>
<text x="204.3" y="167.4" font-family="'Liberation Sans',sans-serif" font-weight="bold" font-size="41.5" fill="#000" letter-spacing="-2.5">H1</text>
<text x="127.4" y="301.3" font-family="'Liberation Sans',sans-serif" font-weight="bold" font-size="24" fill="#000" stroke="#000" stroke-width="0.3">pdm09</text>
<text x="126.4" y="338.5" font-family="'Liberation Sans',sans-serif" font-weight="bold" font-size="24" fill="#000" stroke="#000" stroke-width="0.3">CS</text>
<text x="127.4" y="371.9" font-family="'Liberation Sans',sans-serif" font-weight="bold" font-size="24" fill="#000" stroke="#000" stroke-width="0.3">EA</text>
<text x="1152.3" y="907.3" font-family="'Liberation Sans',sans-serif" font-weight="bold" font-size="21.35" fill="#000" stroke="#000" stroke-width="0.3">Segements</text>
<text x="1134.3" y="934.6" font-family="'Liberation Sans',sans-serif" font-weight="bold" font-size="17.8" fill="#000" text-anchor="middle" stroke="#000" stroke-width="0.3">1</text>
<text x="1155.7" y="934.6" font-family="'Liberation Sans',sans-serif" font-weight="bold" font-size="17.8" fill="#000" text-anchor="middle" stroke="#000" stroke-width="0.3">2</text>
<text x="1176.3" y="934.6" font-family="'Liberation Sans',sans-serif" font-weight="bold" font-size="17.8" fill="#000" text-anchor="middle" stroke="#000" stroke-width="0.3">3</text>
<text x="1195.5" y="934.6" font-family="'Liberation Sans',sans-serif" font-weight="bold" font-size="17.8" fill="#000" text-anchor="middle" stroke="#000" stroke-width="0.3">4</text>
<text x="1218" y="934.6" font-family="'Liberation Sans',sans-serif" font-weight="bold" font-size="17.8" fill="#000" text-anchor="middle" stroke="#000" stroke-width="0.3">5</text>
<text x="1237.8" y="934.6" font-family="'Liberation Sans',sans-serif" font-weight="bold" font-size="17.8" fill="#000" text-anchor="middle" stroke="#000" stroke-width="0.3">6</text>
<text x="1259.2" y="934.6" font-family="'Liberation Sans',sans-serif" font-weight="bold" font-size="17.8" fill="#000" text-anchor="middle" stroke="#000" stroke-width="0.3">7</text>
<text x="1279.6" y="934.6" font-family="'Liberation Sans',sans-serif" font-weight="bold" font-size="17.8" fill="#000" text-anchor="middle" stroke="#000" stroke-width="0.3">8</text>
</svg>
</body>
</html>
